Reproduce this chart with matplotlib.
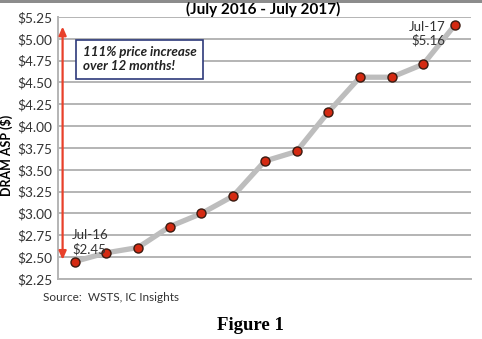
"""DRAM ASP, July 2016 - July 2017 (Figure 1)."""
import matplotlib
matplotlib.use("Agg")
import matplotlib.pyplot as plt
from matplotlib.patches import Rectangle

# ── data ──────────────────────────────────────────────────────────────────
MONTHS = ["Jul-16", "Aug-16", "Sep-16", "Oct-16", "Nov-16", "Dec-16", "Jan-17",
          "Feb-17", "Mar-17", "Apr-17", "May-17", "Jun-17", "Jul-17"]
ASP = [2.45, 2.55, 2.61, 2.85, 3.00, 3.20, 3.60, 3.71, 4.16, 4.56, 4.56, 4.71, 5.16]
YTICKS = [2.25, 2.50, 2.75, 3.00, 3.25, 3.50, 3.75, 4.00, 4.25, 4.50, 4.75, 5.00, 5.25]

FONT = ["Lato", "DejaVu Sans"]
plt.rcParams["font.family"] = FONT

fig = plt.figure(figsize=(4.82, 3.39), dpi=100)
ax = fig.add_axes([0.120, 0.177, 0.857, 0.773])

x = list(range(len(ASP)))
ax.plot(x, ASP, "-", color="#bdbdbd", linewidth=3.8, zorder=3,
        solid_capstyle="round")
ax.plot(x, ASP, "o", markersize=6.5, markerfacecolor="#d42a12",
        markeredgecolor="#3a1a10", markeredgewidth=1.0, zorder=4)

ax.set_xlim(-0.53, 12.5)
ax.set_ylim(2.25, 5.25)
ax.set_yticks(YTICKS)
ax.set_yticklabels([f"${v:.2f}" for v in YTICKS], fontsize=9.8, color="#333333")
ax.set_xticks([])
ax.tick_params(axis="y", length=0, pad=4)
ax.grid(axis="y", color="#b4b4b4", linewidth=1.4, zorder=1)
for s in ["top", "right"]:
    ax.spines[s].set_visible(False)
for s in ["bottom", "left"]:
    ax.spines[s].set_color("#b4b4b4")
    ax.spines[s].set_linewidth(1.4)

ax.set_ylabel("DRAM ASP ($)", fontsize=9, fontweight="bold")
ax.yaxis.set_label_coords(-0.108, 0.47)

# double-headed arrow showing the increase
ax.annotate("", xy=(-0.38, 5.14), xytext=(-0.38, 2.47),
            arrowprops=dict(arrowstyle="<|-|>,head_length=0.5,head_width=0.22",
                            color="#e8402a", linewidth=1.6, shrinkA=0, shrinkB=0),
            zorder=5)

ax.text(0.25, 4.765, "111% price increase\nover 12 months!", fontsize=9.6,
        fontstyle="italic", fontweight="bold", color="#222222",
        va="center", ha="left", linespacing=1.2,
        bbox=dict(boxstyle="square,pad=0.5", facecolor="white",
                  edgecolor="#2d3a7a", linewidth=1.2), zorder=6)

ax.text(-0.08, 2.52, f"{MONTHS[0]}\n${ASP[0]:.2f}", fontsize=9.5,
        color="#333333", ha="left", va="bottom", linespacing=1.15, zorder=6)
ax.text(11.7, 5.06, f"{MONTHS[-1]}\n${ASP[-1]:.2f}", fontsize=9.5,
        color="#333333", ha="right", va="center", linespacing=1.15, zorder=6)

fig.text(0.547, 0.973, "(July 2016 - July 2017)", fontsize=11,
         fontweight="bold", ha="center", va="center")
fig.text(0.089, 0.122, "Source:  WSTS, IC Insights", fontsize=8.5,
         color="#333333", ha="left", va="center")
fig.text(0.520, 0.040, "Figure 1", fontsize=13.5, fontweight="bold",
         family=["Liberation Serif", "DejaVu Serif"], ha="center", va="center")

# grey strip along the top edge
fig.patches.append(Rectangle((0, 0.991), 1, 0.009, transform=fig.transFigure,
                             facecolor="#8c8c8c", edgecolor="none", zorder=0))

fig.savefig("out.png", dpi=100)
